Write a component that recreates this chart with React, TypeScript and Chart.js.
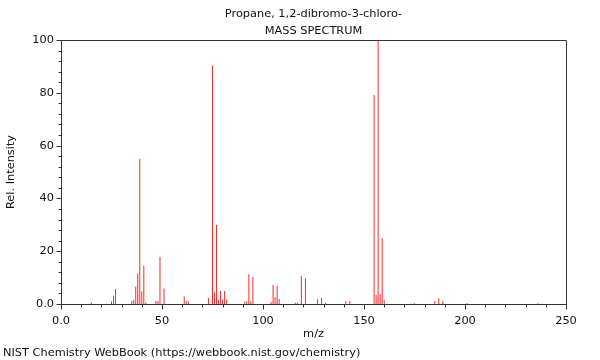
import React, { useEffect, useRef } from "react";
import { Chart, registerables } from "chart.js";

Chart.register(...registerables);

const TITLE_LINES = ["Propane, 1,2-dibromo-3-chloro-", "MASS SPECTRUM"];
const X_LABEL = "m/z";
const Y_LABEL = "Rel. Intensity";
const FOOTER = "NIST Chemistry WebBook (https://webbook.nist.gov/chemistry)";

const MZ = [15, 25, 26, 27, 35, 36, 37, 38, 39, 40, 41, 42, 47, 48, 49, 51, 61, 62, 63, 73, 75, 76, 77, 78, 79, 80, 81, 82, 91, 92, 93, 94, 95, 104, 105, 106, 107, 108, 116, 117, 119, 121, 127, 129, 131, 141, 143, 155, 156, 157, 158, 159, 160, 175, 185, 187, 189, 201, 236];
const INTENSITY = [0.6, 0.9, 3.1, 5.7, 1.0, 1.5, 6.6, 11.6, 55, 4.7, 14.5, 0.6, 1.1, 1.1, 17.9, 5.9, 2.8, 1.1, 1.0, 2.3, 90.3, 4.4, 29.9, 1.5, 4.9, 1.7, 4.9, 1.7, 1.0, 0.9, 11.3, 0.9, 10.3, 0.8, 7.2, 2.6, 6.9, 1.9, 0.5, 0.5, 10.6, 9.8, 1.8, 2.3, 0.5, 1.0, 1.1, 79.2, 3.4, 100, 3.8, 24.9, 1.5, 0.3, 1.1, 2.2, 1.1, 0.4, 0.3];

const X_MIN = 0;
const X_MAX = 250;
const X_MAJOR = 50;
const X_MINOR = 10;
const Y_MIN = 0;
const Y_MAX = 100;
const Y_MAJOR = 20;
const Y_MINOR = 4;

const FONT = "DejaVu Sans";
const FONT_SIZE = 11.35;
const TEXT_COLOR = "#111";
const AXIS_COLOR = "#333";
const BAR_COLOR = "rgba(255,0,0,0.85)";

const fmt = (v: number) => (v === 0 ? "0.0" : String(v));

const decorPlugin = {
  id: "decor",
  afterDraw(chart: any) {
    const { ctx, chartArea, scales } = chart;
    const { left, top, right, bottom } = chartArea;
    ctx.save();
    ctx.strokeStyle = AXIS_COLOR;
    ctx.lineWidth = 1;
    ctx.beginPath();
    ctx.rect(Math.round(left) + 0.5, Math.round(top) + 0.5, Math.round(right - left), Math.round(bottom - top));
    ctx.stroke();
    ctx.beginPath();
    for (let v = X_MIN; v <= X_MAX; v += X_MINOR) {
      const px = Math.round(scales.x.getPixelForValue(v)) + 0.5;
      const len = v % X_MAJOR === 0 ? 5 : 3;
      ctx.moveTo(px, Math.round(bottom) + 0.5);
      ctx.lineTo(px, Math.round(bottom) + 0.5 + len);
    }
    for (let v = Y_MIN; v <= Y_MAX; v += Y_MINOR) {
      const py = Math.round(scales.y.getPixelForValue(v)) + 0.5;
      const len = v % Y_MAJOR === 0 ? 5 : 3;
      ctx.moveTo(Math.round(left) + 0.5, py);
      ctx.lineTo(Math.round(left) + 0.5 - len, py);
    }
    ctx.stroke();

    ctx.fillStyle = TEXT_COLOR;
    ctx.font = `${FONT_SIZE}px "${FONT}"`;
    ctx.textAlign = "center";
    ctx.textBaseline = "middle";
    const cx = (left + right) / 2;
    ctx.fillText(TITLE_LINES[0], cx, 14);
    ctx.fillText(TITLE_LINES[1], cx, 31);
    ctx.fillText(X_LABEL, cx, 334);
    ctx.save();
    ctx.translate(11, (top + bottom) / 2);
    ctx.rotate(-Math.PI / 2);
    ctx.fillText(Y_LABEL, 0, 0);
    ctx.restore();
    ctx.textAlign = "left";
    ctx.fillText(FOOTER, 3, 353);
    ctx.restore();
  },
};

export default function App() {
  const ref = useRef<HTMLCanvasElement | null>(null);
  useEffect(() => {
    if (!ref.current) return;
    const chart = new Chart(ref.current, {
      type: "bar",
      data: {
        datasets: [
          {
            data: MZ.map((m, i) => ({ x: m, y: INTENSITY[i] })),
            backgroundColor: BAR_COLOR,
            borderWidth: 0,
            barThickness: 1,
            inflateAmount: 0,
            grouped: false,
          } as any,
        ],
      },
      options: {
        animation: false,
        responsive: false,
        devicePixelRatio: 1,
        layout: { padding: { left: 0, top: 40, right: 34, bottom: 0 } },
        plugins: { legend: { display: false }, tooltip: { enabled: false }, title: { display: false } },
        scales: {
          x: {
            type: "linear",
            min: X_MIN,
            max: X_MAX,
            offset: false,
            grid: { display: false, drawTicks: false },
            border: { display: false },
            ticks: {
              stepSize: X_MAJOR,
              padding: 10,
              color: TEXT_COLOR,
              font: { family: FONT, size: FONT_SIZE },
              maxRotation: 0,
              autoSkip: false,
              callback: (v: any) => fmt(Number(v)),
            },
            afterFit: (s: any) => {
              s.height = 56;
            },
          },
          y: {
            type: "linear",
            min: Y_MIN,
            max: Y_MAX,
            grid: { display: false, drawTicks: false },
            border: { display: false },
            ticks: {
              stepSize: Y_MAJOR,
              padding: 7,
              color: TEXT_COLOR,
              font: { family: FONT, size: FONT_SIZE },
              callback: (v: any) => fmt(Number(v)),
            },
            afterFit: (s: any) => {
              s.width = 61;
            },
          },
        },
      },
      plugins: [decorPlugin],
    });
    return () => chart.destroy();
  }, []);
  return (
    <div style={{ position: "fixed", left: 0, top: 0, width: 600, height: 360, background: "#fff" }}>
      <canvas ref={ref} width={600} height={360} style={{ display: "block", width: 600, height: 360 }} />
    </div>
  );
}
